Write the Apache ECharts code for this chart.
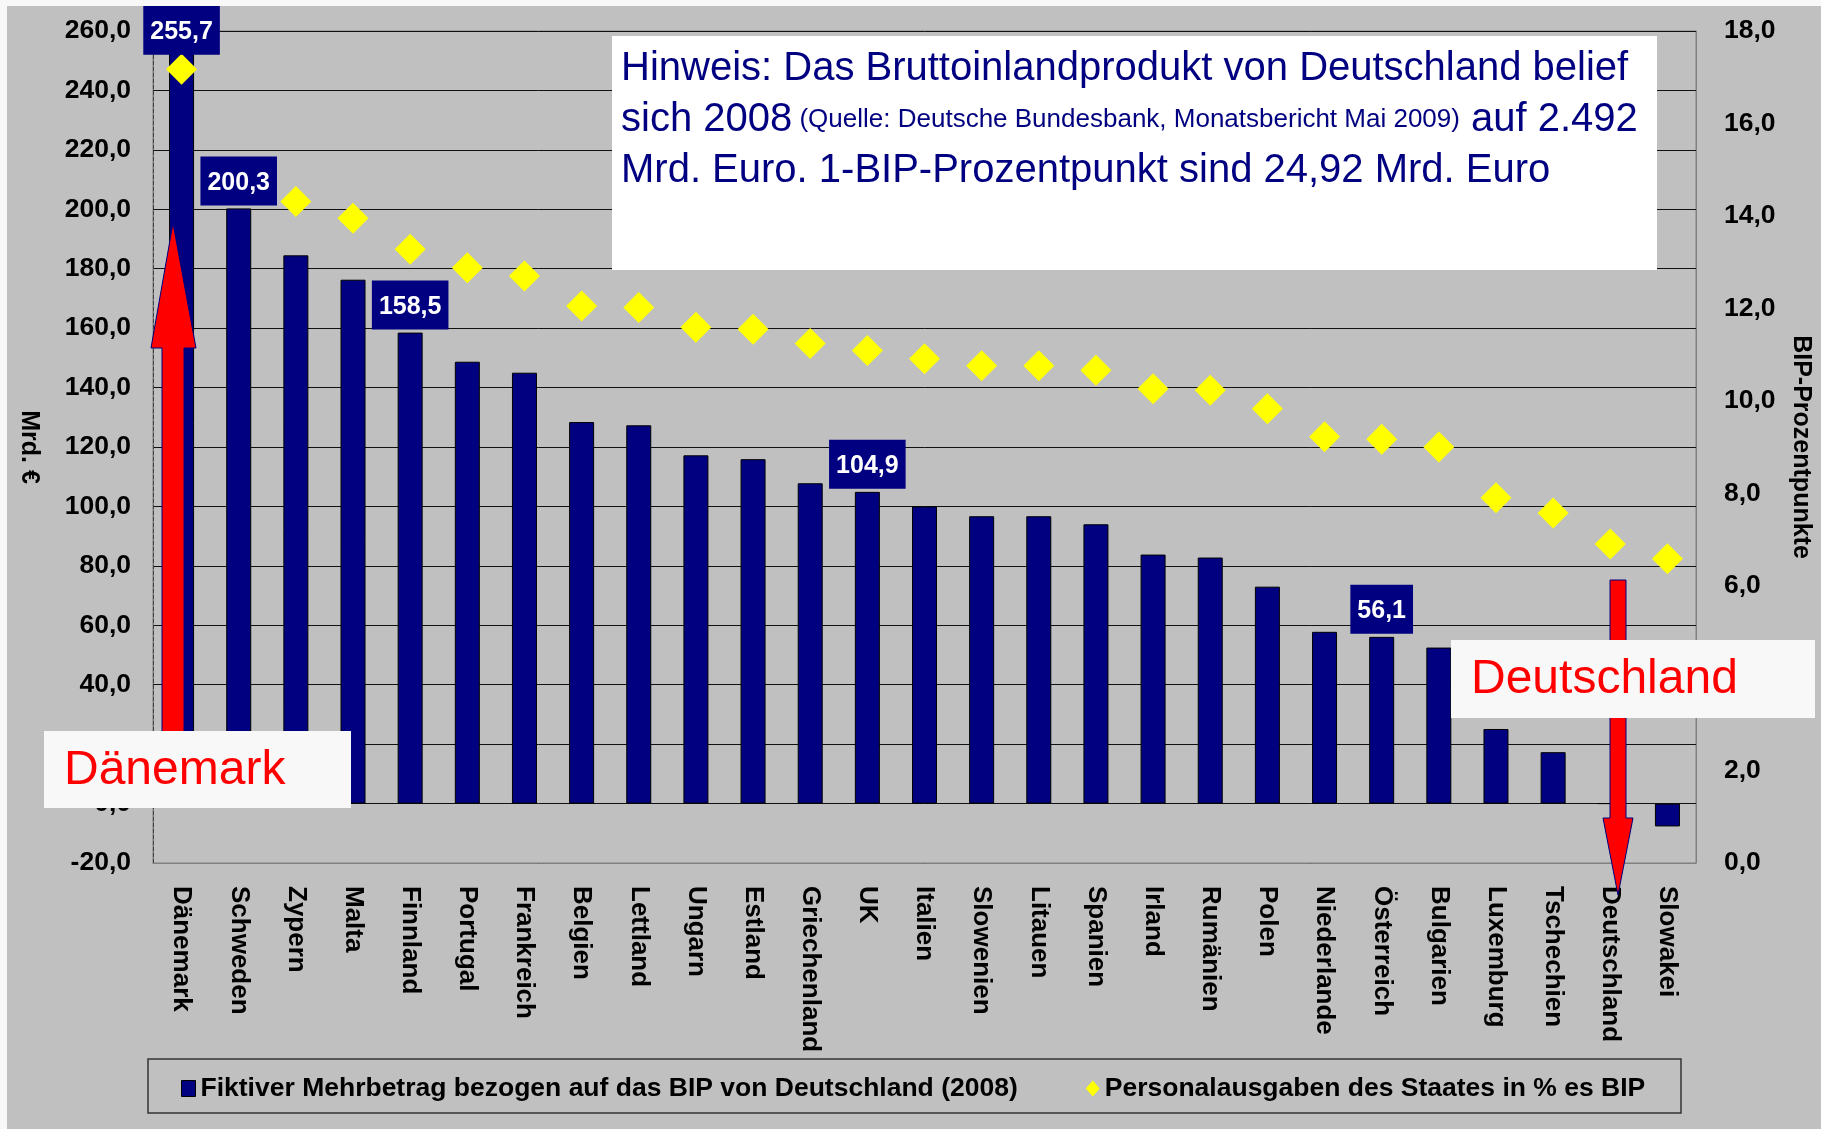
<!DOCTYPE html>
<html>
<head>
<meta charset="utf-8">
<script src="https://cdn.jsdelivr.net/npm/echarts@6/dist/echarts.min.js"></script>
<style>
  html, body { margin: 0; padding: 0; background: #f8f8f8; }
  #main { width: 1821px; height: 1129px; }
</style>
</head>
<body>
<div id="main"></div>
<script>
const FONT = '"Liberation Sans", Arial, sans-serif';

const categories = ['Dänemark', 'Schweden', 'Zypern', 'Malta', 'Finnland', 'Portugal', 'Frankreich',
  'Belgien', 'Lettland', 'Ungarn', 'Estland', 'Griechenland', 'UK', 'Italien', 'Slowenien', 'Litauen',
  'Spanien', 'Irland', 'Rumänien', 'Polen', 'Niederlande', 'Österreich', 'Bulgarien', 'Luxemburg',
  'Tschechien', 'Deutschland', 'Slowakei'];

// Mrd. Euro (linke Achse)
const mehrbetrag = [255.7, 200.3, 184.5, 176.3, 158.5, 148.7, 145.0, 128.4, 127.3, 117.2, 115.9,
  107.8, 104.9, 100.0, 96.7, 96.7, 94.0, 83.8, 82.8, 73.0, 57.8, 56.1, 52.5, 25.1, 17.3, 0, -7.7];

// % des BIP (rechte Achse)
const personal = [17.17, 14.8, 14.31, 13.95, 13.28, 12.88, 12.70, 12.05, 12.02, 11.59, 11.55,
  11.24, 11.09, 10.91, 10.76, 10.76, 10.66, 10.26, 10.23, 9.83, 9.22, 9.17, 9.0, 7.9, 7.57, 6.9, 6.58];

const labeledBars = [0, 1, 4, 12, 21];

const leftTicks = { min: -20, max: 260, interval: 20 };
const rightTicks = { min: 0, max: 18, interval: 2 };

const nameBar = 'Fiktiver Mehrbetrag bezogen auf das BIP von Deutschland (2008)';
const nameDot = 'Personalausgaben des Staates in % es BIP';

const fmt = v => Number(v).toFixed(1).replace('.', ',');

const chart = echarts.init(document.getElementById('main'));

const option = {
  backgroundColor: '#c0c0c0',
  animation: false,
  textStyle: { fontFamily: FONT },
  grid: {
    left: 153, right: 116, top: 31, bottom: 266,
    show: true, borderColor: '#808080', borderWidth: 1, backgroundColor: 'transparent'
  },
  legend: {
    left: 176, top: 1070,
    itemWidth: 14, itemHeight: 16, itemGap: 68,
    textStyle: { fontFamily: FONT, fontWeight: 'bold', fontSize: 26.5, color: '#000' },
    data: [
      { name: nameBar, icon: 'rect', itemStyle: { color: '#000080', borderColor: '#000', borderWidth: 1 } },
      { name: nameDot, icon: 'diamond', itemStyle: { color: '#ffff00', opacity: 1 } }
    ]
  },
  xAxis: {
    type: 'category',
    data: categories,
    axisLine: { onZero: false, lineStyle: { color: '#808080' } },
    axisTick: { show: false },
    axisLabel: {
      interval: 0, rotate: -90, margin: 23,
      fontFamily: FONT, fontWeight: 'bold', fontSize: 26, color: '#000'
    }
  },
  yAxis: [
    {
      type: 'value',
      min: leftTicks.min, max: leftTicks.max, interval: leftTicks.interval,
      name: 'Mrd. €', nameLocation: 'middle', nameRotate: -90, nameGap: 112,
      nameTextStyle: { fontFamily: FONT, fontWeight: 'bold', fontSize: 25, color: '#000' },
      axisLine: { show: true, lineStyle: { color: '#404040', type: 'dashed' } },
      axisTick: { show: false },
      axisLabel: { formatter: fmt, margin: 22, fontFamily: FONT, fontWeight: 'bold', fontSize: 26.5, color: '#000' },
      splitLine: { lineStyle: { color: '#111', width: 1 } }
    },
    {
      type: 'value',
      min: rightTicks.min, max: rightTicks.max, interval: rightTicks.interval,
      name: 'BIP-Prozentpunkte', nameLocation: 'middle', nameRotate: -90, nameGap: 92,
      nameTextStyle: { fontFamily: FONT, fontWeight: 'bold', fontSize: 25, color: '#000' },
      axisLine: { show: true, lineStyle: { color: '#808080' } },
      axisTick: { show: false },
      axisLabel: { formatter: fmt, margin: 28, fontFamily: FONT, fontWeight: 'bold', fontSize: 26.5, color: '#000' },
      splitLine: { show: false }
    }
  ],
  series: [
    {
      name: nameBar,
      type: 'bar',
      yAxisIndex: 0,
      barWidth: 25,
      z: 2,
      itemStyle: { color: '#000080', borderColor: '#000', borderWidth: 1 },
      data: mehrbetrag
    },
    {
      name: nameDot,
      type: 'scatter',
      yAxisIndex: 1,
      symbol: 'diamond',
      symbolSize: 31,
      z: 3,
      itemStyle: { color: '#ffff00', opacity: 1 },
      data: personal
    },
    {
      // nur für die Wertelabels, damit sie über den Rauten liegen
      name: 'labels',
      type: 'bar',
      yAxisIndex: 0,
      barWidth: 25,
      barGap: '-100%',
      z: 4,
      silent: true,
      itemStyle: { color: 'transparent' },
      data: mehrbetrag.map((v, i) => ({
        value: v,
        label: {
          show: labeledBars.includes(i),
          offset: i === 0 ? [0, 14] : [0, 0]
        }
      })),
      label: {
        position: 'top',
        distance: 3,
        formatter: p => fmt(p.value),
        fontFamily: FONT, fontWeight: 'bold', fontSize: 25, color: '#fff',
        backgroundColor: '#000080',
        padding: [14, 7, 10, 7]
      }
    }
  ],
  graphic: [
    { type: 'rect', z: 100, shape: { x: 0, y: 0, width: 1821, height: 6 }, style: { fill: '#f8f8f8' } },
    { type: 'rect', z: 100, shape: { x: 0, y: 0, width: 7, height: 1129 }, style: { fill: '#f8f8f8' } },

    // Hinweis-Kasten
    { type: 'rect', z: 100, shape: { x: 612, y: 36, width: 1045, height: 234 }, style: { fill: '#ffffff' } },
    {
      type: 'text', z: 101, x: 621, y: 43,
      style: {
        text: '{a|Hinweis: Das Bruttoinlandprodukt von Deutschland belief}\n' +
              '{a|sich 2008}{b| (Quelle: Deutsche Bundesbank, Monatsbericht Mai 2009)}{a| auf 2.492}\n' +
              '{a|Mrd. Euro. 1-BIP-Prozentpunkt sind 24,92 Mrd. Euro}',
        verticalAlign: 'top',
        rich: {
          a: { fontFamily: FONT, fontSize: 40, lineHeight: 51, fill: '#000080' },
          b: { fontFamily: FONT, fontSize: 26, lineHeight: 51, fill: '#000080' }
        }
      }
    },

    // Pfeil Dänemark
    {
      type: 'polygon', z: 100,
      shape: { points: [[173, 223], [196, 348], [184, 348], [184, 760], [162, 760], [162, 348], [151, 348]] },
      style: { fill: '#ff0000', stroke: '#000080', lineWidth: 1 }
    },
    { type: 'rect', z: 101, shape: { x: 44, y: 731, width: 307, height: 77 }, style: { fill: '#f8f8f8' } },
    {
      type: 'text', z: 102, x: 64, y: 771,
      style: { text: 'Dänemark', font: '48px ' + FONT, fill: '#ff0000', verticalAlign: 'middle' }
    },

    // Pfeil Deutschland
    {
      type: 'polygon', z: 100,
      shape: { points: [[1610, 580], [1626, 580], [1626, 818], [1633, 818], [1618, 895], [1603, 818], [1610, 818]] },
      style: { fill: '#ff0000', stroke: '#000080', lineWidth: 1 }
    },
    { type: 'rect', z: 101, shape: { x: 1451, y: 640, width: 364, height: 78 }, style: { fill: '#f8f8f8' } },
    {
      type: 'text', z: 102, x: 1471, y: 680,
      style: { text: 'Deutschland', font: '48px ' + FONT, fill: '#ff0000', verticalAlign: 'middle' }
    },

    // Rahmen der Legende
    {
      type: 'rect', z: 1, shape: { x: 148, y: 1059, width: 1533, height: 54 },
      style: { fill: 'none', stroke: '#333', lineWidth: 1.5 }
    }
  ]
};

chart.setOption(option);
</script>
</body>
</html>
